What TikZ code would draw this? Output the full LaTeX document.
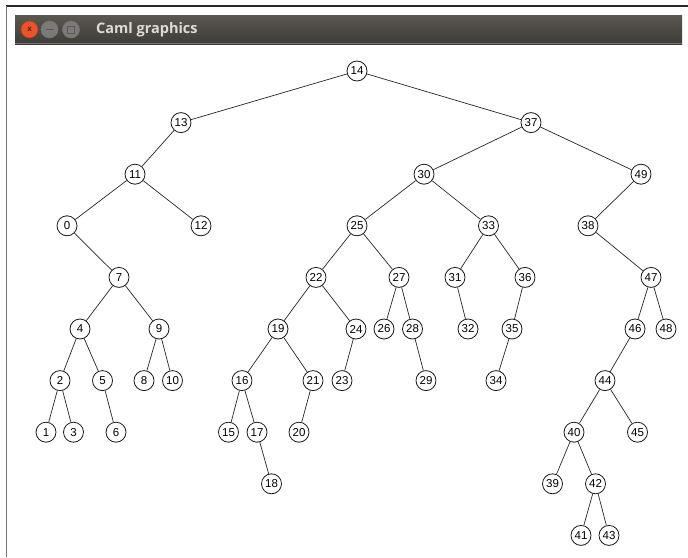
\documentclass[tikz,border=0pt]{standalone}
\usepackage{fontspec}
\setmainfont{Liberation Sans}
\newfontfamily\titlefont{Open Sans}
\definecolor{barTop}{HTML}{5B5852}
\definecolor{barBot}{HTML}{3E3C37}
\definecolor{titleInk}{HTML}{DFDBD2}
\definecolor{closeRed}{HTML}{E9542A}
\definecolor{btnGray}{HTML}{7C7A74}
\tikzset{
  key/.style={draw=black!90, line width=0.8pt, circle, fill=white,
    minimum size=20pt, inner sep=0pt, font=\fontsize{11.5}{11.5}\selectfont},
  branch/.style={draw=black!85, line width=0.7pt},
  winbtn/.style={circle, minimum size=17pt, inner sep=0pt, line width=0.6pt}
}
\begin{document}
\begin{tikzpicture}[x=1pt,y=-1pt]
  \useasboundingbox (0,0) rectangle (688,557);
  \fill[white] (0,0) rectangle (688,557);
  % window frame
  \draw[black!85, line width=1.4pt] (6,6) -- (688,6);
  \draw[black!55, line width=1.5pt] (6.5,6) -- (6.5,557);
  % title bar
  \shade[top color=barTop, bottom color=barBot] (15,15) rectangle (682,44);
  \draw[black!55, line width=0.7pt] (15,43.7) -- (682,43.7);
  \node[winbtn, fill=closeRed, draw=closeRed!75!black] (bclose) at (29.5,29.5) {};
  \node[font=\fontsize{8}{8}\selectfont\bfseries, text=closeRed!35!black] at (bclose) {x};
  \node[winbtn, fill=btnGray, draw=black!55] (bmin) at (49.5,29.5) {};
  \draw[black!65, line width=1pt] ([xshift=-4pt]bmin.center) -- ([xshift=4pt]bmin.center);
  \node[winbtn, fill=btnGray, draw=black!55] (bmax) at (71,29.5) {};
  \draw[black!65, line width=0.9pt] ([shift={(-3.5pt,-3.5pt)}]bmax.center) rectangle ([shift={(3.5pt,3.5pt)}]bmax.center);
  \node[anchor=west, text=titleInk, inner sep=0pt, font=\titlefont\bfseries\fontsize{14.5}{14.5}\selectfont] (title) at (96,29.5) {Caml graphics};

  % tree keys: name / x / depth
  \foreach \k/\x/\d in {
    14/357/0,
    13/181/1, 37/531/1,
    11/135/2, 30/424/2, 49/641/2,
    0/67/3, 12/201/3, 25/357/3, 33/488.5/3, 38/588/3,
    7/119/4, 22/316/4, 27/399/4, 31/455/4, 36/525/4, 47/651/4,
    4/80/5, 9/159/5, 19/278/5, 24/356/5, 26/384/5, 28/412.5/5, 32/468/5, 35/512/5, 46/635/5, 48/666/5,
    2/60/6, 5/102.5/6, 8/144/6, 10/172.5/6, 16/242/6, 21/313/6, 23/342/6, 29/426/6, 34/496/6, 44/605/6,
    1/46/7, 3/73.5/7, 6/116/7, 15/228.5/7, 17/257/7, 20/299/7, 40/574/7, 45/637.5/7,
    18/271.5/8, 39/552.5/8, 42/595.5/8,
    41/581/9, 43/609/9}
    \node[key] (n\k) at (\x, 71+51.6*\d) {\k};

  % parent -- child links
  \foreach \p/\c in {
    14/13, 14/37, 13/11, 11/0, 11/12, 0/7, 7/4, 7/9, 4/2, 4/5, 2/1, 2/3, 5/6, 9/8, 9/10,
    37/30, 37/49, 30/25, 30/33, 25/22, 25/27, 22/19, 22/24, 19/16, 19/21, 16/15, 16/17,
    17/18, 21/20, 24/23, 27/26, 27/28, 28/29, 33/31, 33/36, 31/32, 36/35, 35/34,
    49/38, 38/47, 47/46, 47/48, 46/44, 44/40, 44/45, 40/39, 40/42, 42/41, 42/43}
    \draw[branch] (n\p) -- (n\c);
\end{tikzpicture}
\end{document}
